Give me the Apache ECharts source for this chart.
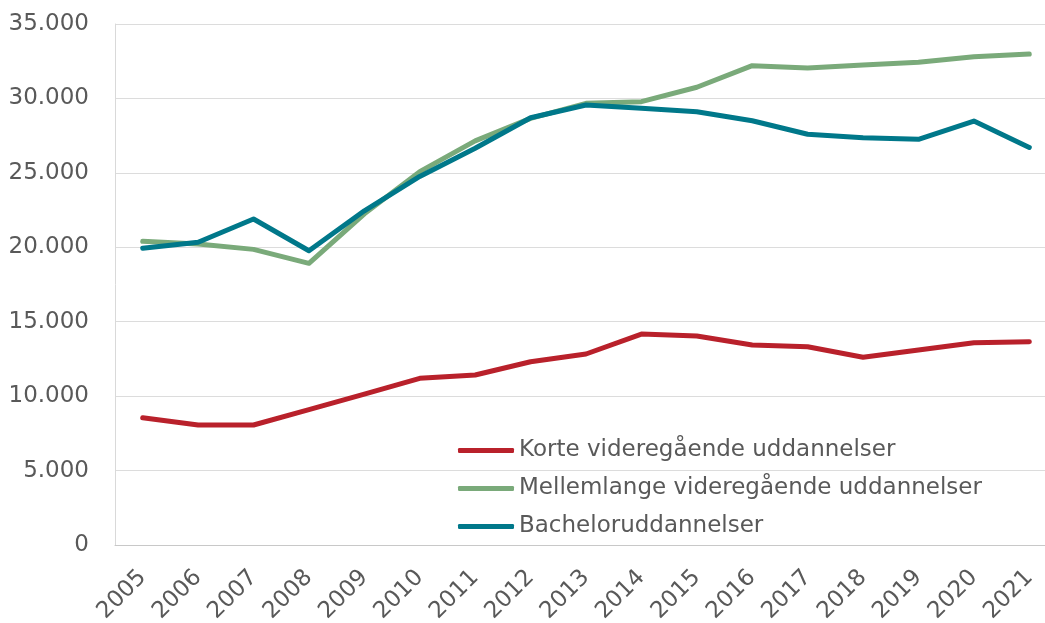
<!DOCTYPE html>
<html>
<head>
<meta charset="utf-8">
<script src="https://cdn.jsdelivr.net/npm/echarts@6/dist/echarts.min.js"></script>
<style>
  html, body { margin: 0; padding: 0; background: #fff; overflow: hidden; }
  /* the plot runs a little past the right edge of the picture, as in the original */
  #chart { width: 1057px; height: 623px; }
</style>
</head>
<body>
<div id="chart"></div>
<script>
// Years on the x axis
const years = ['2005', '2006', '2007', '2008', '2009', '2010', '2011', '2012', '2013',
  '2014', '2015', '2016', '2017', '2018', '2019', '2020', '2021'];

// Series values
const korte = [8550, 8060, 8060, 9100, 10140, 11200, 11420, 12310, 12830,
  14170, 14040, 13440, 13320, 12610, 13100, 13590, 13660];
const mellemlange = [20400, 20220, 19860, 18920, 22250, 25080, 27150, 28660, 29670,
  29780, 30750, 32200, 32050, 32250, 32430, 32800, 32980];
const bachelor = [19930, 20340, 21900, 19770, 22450, 24760, 26650, 28700, 29560,
  29340, 29110, 28500, 27590, 27360, 27250, 28480, 26710];

const seriesNames = ['Korte videregående uddannelser', 'Mellemlange videregående uddannelser', 'Bacheloruddannelser'];
const seriesColors = ['#b9212b', '#7aaa7a', '#00788a'];

const textColor = '#595959';
const fontFamily = '"DejaVu Sans", Verdana, sans-serif';

const chart = echarts.init(document.getElementById('chart'));

// 35000 -> "35.000"
const fmt = (v) => String(v).replace(/\B(?=(\d{3})+(?!\d))/g, '.');

const makeLine = (name, data, color) => ({
  name,
  type: 'line',
  data,
  symbol: 'none',
  smooth: false,
  lineStyle: { color, width: 5, cap: 'round', join: 'round' },
  itemStyle: { color },
});

chart.setOption({
  animation: false,
  textStyle: { fontFamily },
  grid: { left: 115, top: 24, right: 0, bottom: 78, containLabel: false, outerBoundsMode: 'none' },
  xAxis: {
    type: 'category',
    data: years,
    boundaryGap: true,
    axisLine: { lineStyle: { color: '#c8c8c8', width: 1 } },
    axisTick: { show: false },
    axisLabel: { rotate: 45, color: textColor, fontSize: 23, margin: 29, interval: 0 },
    splitLine: { show: false },
  },
  yAxis: {
    type: 'value',
    min: 0,
    max: 35000,
    interval: 5000,
    axisLine: { show: true, lineStyle: { color: '#d9d9d9', width: 1 } },
    axisTick: { show: false },
    axisLabel: { color: textColor, fontSize: 23, margin: 26, formatter: fmt },
    splitLine: { lineStyle: { color: '#dcdcdc', width: 1 } },
  },
  legend: {
    orient: 'vertical',
    left: 453,
    top: 434,
    itemWidth: 56,
    itemHeight: 5,
    itemGap: 15,
    icon: 'roundRect',
    textStyle: { color: textColor, fontSize: 23, lineHeight: 22 },
    data: seriesNames,
  },
  series: [
    makeLine(seriesNames[0], korte, seriesColors[0]),
    makeLine(seriesNames[1], mellemlange, seriesColors[1]),
    makeLine(seriesNames[2], bachelor, seriesColors[2]),
  ],
});
</script>
</body>
</html>
